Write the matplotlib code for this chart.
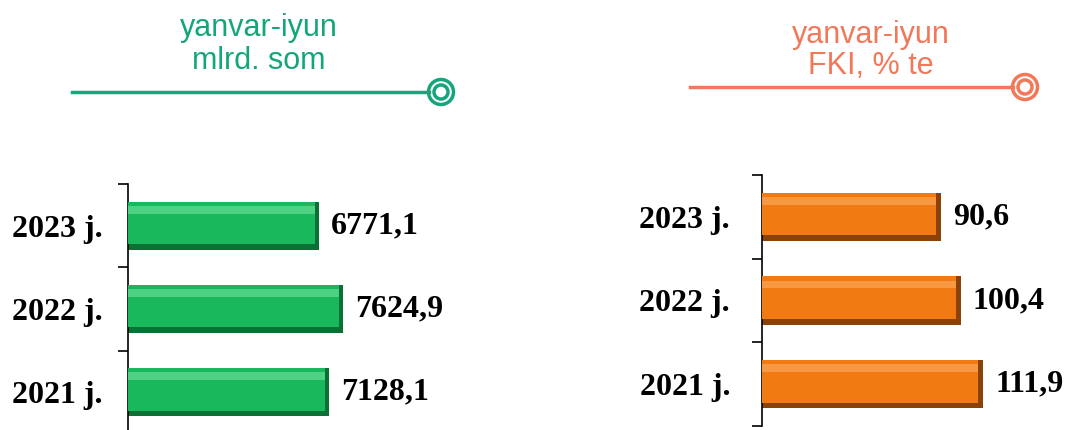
import matplotlib
matplotlib.use("Agg")
import matplotlib.pyplot as plt
from matplotlib.patches import Circle

years = ["2021 j.", "2022 j.", "2023 j."]
sum_vals = [7128.1, 7624.9, 6771.1]      # mlrd. som
fki_vals = [111.9, 100.4, 90.6]          # FKI, %
sum_labels = ["7128,1", "7624,9", "6771,1"]
fki_labels = ["111,9", "100,4", "90,6"]

W, H = 1067, 430
fig = plt.figure(figsize=(W / 100, H / 100), dpi=100)

SERIF = "Liberation Serif"
SANS = "Liberation Sans"


def bar_panel(rect, vals, labels, xmax, face, dark, light, label_gap, pad):
    ax = fig.add_axes(rect)
    ypos = list(range(len(vals)))
    h = 0.58
    # dark body gives the shadowed bottom/right bevel
    ax.barh(ypos, vals, height=h, color=dark, zorder=2)
    inner = [v - xmax * 0.018 for v in vals]
    ih = h * 0.88
    ax.barh([y + (h - ih) / 2 for y in ypos], inner, height=ih, color=face, zorder=3)
    # soft top highlight
    ax.barh([y + h / 2 - h * 0.17 for y in ypos], inner, height=h * 0.16,
            color=light, alpha=0.45, zorder=4, linewidth=0)
    ax.set_xlim(0, xmax)
    ax.set_ylim(-0.5, len(vals) - 0.5)
    for s in ("top", "right", "bottom"):
        ax.spines[s].set_visible(False)
    ax.spines["left"].set_linewidth(1.2)
    ax.set_xticks([])
    ax.set_yticks(ypos)
    ax.set_yticklabels(years, fontfamily=SERIF, fontweight="bold", fontsize=23)
    ax.tick_params(axis="y", which="major", length=0, pad=pad)
    ax.set_yticks([y - 0.5 for y in range(len(vals) + 1)], minor=True)
    ax.tick_params(axis="y", which="minor", length=7, width=1.2, direction="out")
    ax.yaxis.get_minor_ticks()[-1].tick1line.set_color("#7a3a7a")
    for y, v, t in zip(ypos, vals, labels):
        ax.annotate(t, (v, y), xytext=(label_gap, 0), textcoords="offset pixels",
                    ha="left", va="center", fontfamily=SERIF,
                    fontweight="bold", fontsize=23)
    ax.patch.set_alpha(0)
    return ax


bar_panel([128 / W, -0.009, 254 / W, 0.581], sum_vals, sum_labels, 9000,
          "#1ab85c", "#0a7034", "#8ff0b4", 12, 18)
bar_panel([762 / W, 1 - 426 / H, 277 / W, 251 / H], fki_vals, fki_labels, 140,
          "#f27a12", "#8a4208", "#ffc080", 12, 23)


def header(x0, x1, y, cx, ty, color, lines):
    ov = fig.add_axes([0, 0, 1, 1])
    ov.set_xlim(0, W)
    ov.set_ylim(H, 0)
    ov.axis("off")
    ov.plot([x0, x1 - 12], [y, y], color=color, lw=2.5)
    ov.add_patch(Circle((x1, y), 12.5, fill=False, ec=color, lw=2.5))
    ov.add_patch(Circle((x1, y), 7, fill=False, ec=color, lw=2.5))
    ov.set_aspect("equal", adjustable="datalim")
    for t, yy in zip(lines, ty):
        fig.text(cx / W, 1 - yy / H, t, color=color, fontfamily=SANS,
                 fontsize=22, ha="center", va="center")


header(72, 441, 92, 259, (28, 61), "#14a67a", ["yanvar-iyun", "mlrd. som"])
header(690, 1025, 87, 871, (35, 66), "#f2785a", ["yanvar-iyun", "FKI, % te"])

fig.savefig("out.png", dpi=100)
